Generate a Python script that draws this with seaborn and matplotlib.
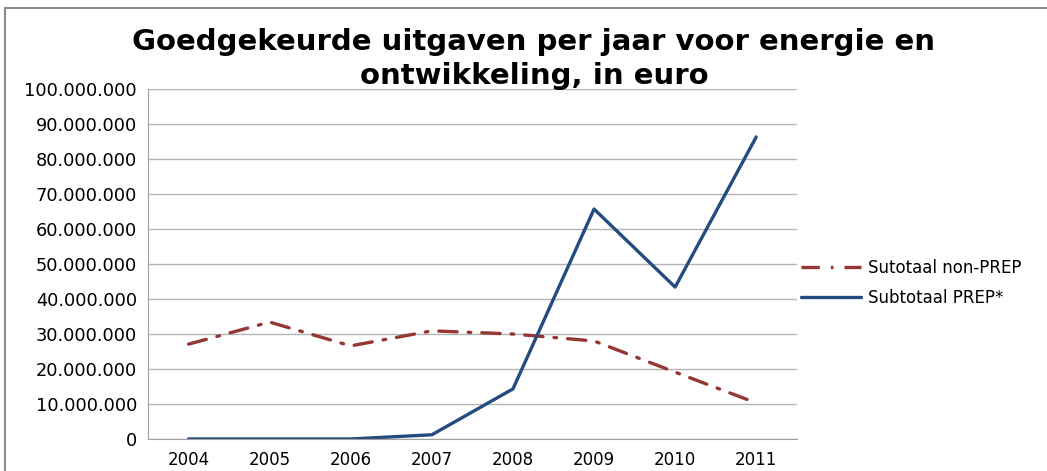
import seaborn as sns
import pandas as pd
import matplotlib.pyplot as plt
from matplotlib.ticker import FuncFormatter, FixedLocator
from matplotlib.patches import Rectangle

# data
years = [2004, 2005, 2006, 2007, 2008, 2009, 2010, 2011]
non_prep = [27.1e6, 33.4e6, 26.6e6, 30.9e6, 30.0e6, 28.0e6, 19.1e6, 10.3e6]
prep = [0.0, 0.0, 0.0, 1.2e6, 14.3e6, 65.7e6, 43.4e6, 86.3e6]
series_names = ["Sutotaal non-PREP", "Subtotaal PREP*"]

sns.set_style("white")
plt.rcParams['font.family'] = ['DejaVu Sans']
plt.rcParams['text.color'] = 'black'

data = pd.DataFrame({
    "pos": list(range(len(years))) * 2,
    "value": non_prep + prep,
    "serie": [series_names[0]] * len(years) + [series_names[1]] * len(years),
})

fig = plt.figure(figsize=(10.47, 4.71), dpi=100)
ax = fig.add_axes([0.1414, 0.068, 0.6196, 0.743])

dash = [5.5, 3.3, 0.8, 3.3]
palette = {series_names[0]: "#953734", series_names[1]: "#244C7F"}
sns.lineplot(data=data, x="pos", y="value", hue="serie", palette=palette,
             ax=ax, linewidth=2.4, legend=False)
ax.lines[0].set_dashes(dash)
ax.lines[0].set_dash_capstyle("round")
ax.lines[1].set_solid_capstyle("round")

ax.set_xlim(-0.5, len(years) - 0.5)
ax.set_ylim(0, 100e6)
ax.set_yticks([i * 10e6 for i in range(11)])
ax.yaxis.set_major_formatter(FuncFormatter(lambda v, p: f"{int(v):,}".replace(",", ".")))
ax.set_xticks(range(len(years)))
ax.set_xticklabels([str(y) for y in years])
ax.xaxis.set_minor_locator(FixedLocator([i - 0.5 for i in range(len(years) + 1)]))
ax.tick_params(axis="x", which="major", length=0, pad=9, labelsize=12, labelcolor="black")
ax.tick_params(axis="x", which="minor", length=5, color="#A0A0A0", direction="out")
ax.tick_params(axis="y", length=5, color="#A0A0A0", direction="out", labelsize=12.8,
               pad=3, labelcolor="black")
ax.grid(axis="y", color="#B4B4B4", linewidth=1)
ax.set_axisbelow(True)
for s in ["top", "right"]:
    ax.spines[s].set_visible(False)
for s in ["left", "bottom"]:
    ax.spines[s].set_color("#A0A0A0")
ax.set_xlabel("")
ax.set_ylabel("")

# legend on the right
handles = [plt.Line2D([], [], color=palette[n], linewidth=2.4) for n in series_names]
handles[0].set_dashes(dash)
fig.legend(handles, series_names, loc="center left", bbox_to_anchor=(0.765, 0.399),
           frameon=False, fontsize=12, handlelength=3.6, handletextpad=0.4,
           labelspacing=0.75, borderaxespad=0, borderpad=0)

fig.text(0.51, 0.875, "Goedgekeurde uitgaven per jaar voor energie en\nontwikkeling, in euro",
         ha="center", va="center", fontsize=21, fontweight="bold", linespacing=1.25)

fig.patches.append(Rectangle((0.005, -0.1), 1.2, 1.083, transform=fig.transFigure,
                             fill=False, edgecolor="#8C8C8C", linewidth=1.5))

fig.savefig("out.png", dpi=100)
